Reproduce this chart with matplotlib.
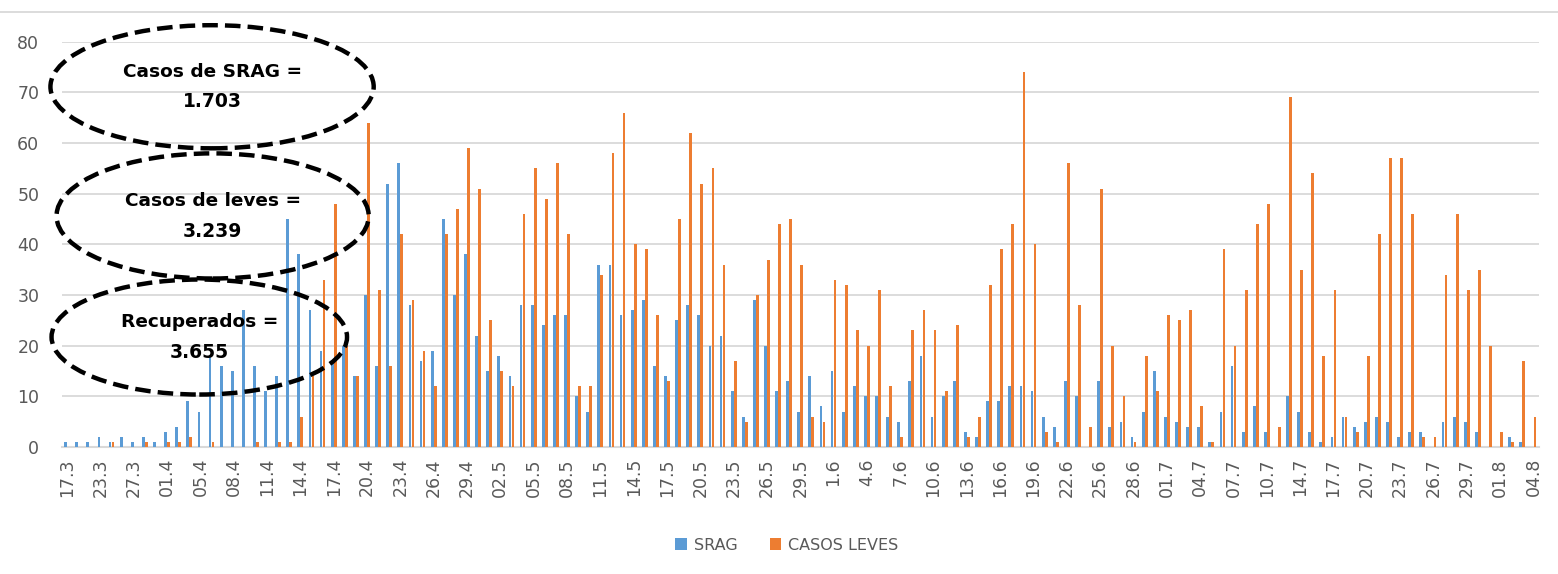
import numpy as np
import matplotlib
matplotlib.use("Agg")
import matplotlib.pyplot as plt
from matplotlib.patches import Ellipse
from matplotlib.lines import Line2D

# casos diarios (uma barra por data de notificacao)
srag = [1, 1, 1, 2, 1, 2, 1, 2, 1, 3, 4, 9, 7, 18, 16, 15, 27, 16, 11, 14,
        45, 38, 27, 19, 17, 20, 14, 30, 16, 52, 56, 28, 17, 19, 45, 30, 38, 22, 15, 18,
        14, 28, 28, 24, 26, 26, 10, 7, 36, 36, 26, 27, 29, 16, 14, 25, 28, 26, 20, 22,
        11, 6, 29, 20, 11, 13, 7, 14, 8, 15, 7, 12, 10, 10, 6, 5, 13, 18, 6, 10,
        13, 3, 2, 9, 9, 12, 12, 11, 6, 4, 13, 10, 0, 13, 4, 5, 2, 7, 15, 6,
        5, 4, 4, 1, 7, 16, 3, 8, 3, 0, 10, 7, 3, 1, 2, 6, 4, 5, 6, 5,
        2, 3, 3, 0, 5, 6, 5, 3, 0, 0, 2, 1, 0]
casos_leves = [0, 0, 0, 0, 1, 0, 0, 1, 0, 1, 1, 2, 0, 1, 0, 0, 0, 1, 0, 1,
               1, 6, 14, 33, 48, 20, 14, 64, 31, 16, 42, 29, 19, 12, 42, 47, 59, 51, 25, 15,
               12, 46, 55, 49, 56, 42, 12, 12, 34, 58, 66, 40, 39, 26, 13, 45, 62, 52, 55, 36,
               17, 5, 30, 37, 44, 45, 36, 6, 5, 33, 32, 23, 20, 31, 12, 2, 23, 27, 23, 11,
               24, 2, 6, 32, 39, 44, 74, 40, 3, 1, 56, 28, 4, 51, 20, 10, 1, 18, 11, 26,
               25, 27, 8, 1, 39, 20, 31, 44, 48, 4, 69, 35, 54, 18, 31, 6, 3, 18, 42, 57,
               57, 46, 2, 2, 34, 46, 31, 35, 20, 3, 1, 17, 6]

tick_labels = ['17.3', '23.3', '27.3', '01.4', '05.4', '08.4', '11.4', '14.4', '17.4',
               '20.4', '23.4', '26.4', '29.4', '02.5', '05.5', '08.5', '11.5', '14.5',
               '17.5', '20.5', '23.5', '26.5', '29.5', '1.6', '4.6', '7.6', '10.6',
               '13.6', '16.6', '19.6', '22.6', '25.6', '28.6', '01.7', '04.7', '07.7',
               '10.7', '14.7', '17.7', '20.7', '23.7', '26.7', '29.7', '01.8', '04.8']

resumo = [("Casos de SRAG =", "1.703"),
          ("Casos de leves =", "3.239"),
          ("Recuperados =", "3.655")]

blue = '#5B9BD5'
orange = '#ED7D31'
grid = '#D9D9D9'
txt = '#595959'

fig = plt.figure(figsize=(15.58, 5.74), dpi=100)
ax = fig.add_axes([0.0395, 0.2213, 0.9483, 0.7061])

x = np.arange(len(srag))
w = 0.25
ax.bar(x - 0.135, srag, w, color=blue, label='SRAG', zorder=3)
ax.bar(x + 0.135, casos_leves, w, color=orange, label='CASOS LEVES', zorder=3)

ax.set_xlim(-0.5, len(srag) - 0.5)
ax.set_ylim(0, 80)
ax.set_yticks(range(0, 81, 10))
ax.set_xticks(x[::3])
ax.set_xticklabels(tick_labels, rotation=90)
ax.tick_params(axis='both', length=0, colors=txt, labelsize=12.5)
ax.tick_params(axis='x', pad=8)
ax.tick_params(axis='y', pad=16)
ax.grid(axis='y', color=grid, linewidth=1.3, zorder=0)
for s in ['top', 'right', 'left']:
    ax.spines[s].set_visible(False)
ax.spines['bottom'].set_color(grid)
ax.spines['bottom'].set_linewidth(1.5)

# caixas de resumo (elipses tracejadas)
ell = [(13.05, 71.1, 29.1, 24.3), (13.1, 45.6, 28.1, 24.7), (11.9, 21.7, 26.6, 22.7)]
for (cx, cy, ew, eh), (t1, t2) in zip(ell, resumo):
    ax.add_patch(Ellipse((cx, cy), ew, eh, fill=False, edgecolor='black', lw=3.2,
                         linestyle=(0, (3.5, 1.6)), clip_on=False, zorder=5))
    ax.text(cx, cy + 3.0, t1, ha='center', va='center', fontsize=13.3,
            fontweight='bold', color='black', zorder=6)
    ax.text(cx, cy - 3.0, t2, ha='center', va='center', fontsize=13.5,
            fontweight='bold', color='black', zorder=6)

fig.legend(loc='center', bbox_to_anchor=(0.505, 0.0505), ncol=2, frameon=False,
           fontsize=11.5, handlelength=0.75, handleheight=0.75, columnspacing=2.0,
           handletextpad=0.4, labelcolor=txt)

fig.add_artist(Line2D([0, 1], [1 - 12 / 574] * 2, transform=fig.transFigure,
                      color=grid, lw=1.3))

fig.savefig('out.png', dpi=100)
